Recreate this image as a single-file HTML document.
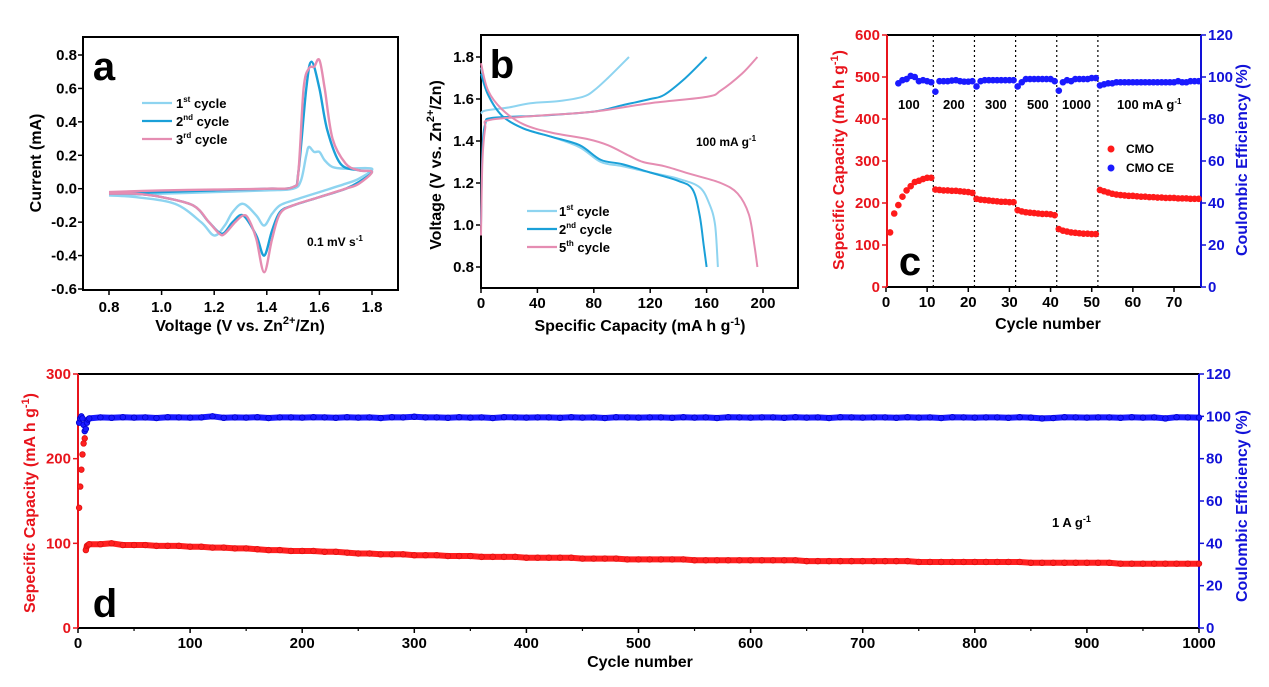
<!DOCTYPE html>
<html><head><meta charset="utf-8">
<style>
html,body{margin:0;padding:0;background:#fff;}
svg{display:block;font-family:"Liberation Sans",Arial,sans-serif;font-weight:bold;}
</style></head>
<body>
<svg id="fig" width="1269" height="687" viewBox="0 0 1269 687" xmlns="http://www.w3.org/2000/svg"></svg>
<script>
// ---------- Panel a data (CV) ----------
const cvV1 = [0.8,1.0,1.2,1.4,1.5,1.53,1.55,1.56,1.58,1.6,1.62,1.65,1.7,1.8, 1.75,1.7,1.6,1.5,1.45,1.42,1.39,1.36,1.31,1.27,1.24,1.2,1.15,1.05,0.9,0.8];
const cvI1 = [-0.04,-0.03,-0.02,-0.01,0.0,0.05,0.2,0.25,0.22,0.22,0.17,0.13,0.12,0.12, 0.06,0.03,-0.02,-0.07,-0.1,-0.15,-0.22,-0.16,-0.09,-0.14,-0.22,-0.28,-0.2,-0.09,-0.05,-0.04];
const cvV2 = [0.8,1.0,1.2,1.4,1.5,1.52,1.55,1.57,1.6,1.63,1.68,1.75,1.8, 1.75,1.7,1.6,1.5,1.45,1.42,1.39,1.36,1.31,1.27,1.23,1.18,1.12,1.0,0.9,0.8];
const cvI2 = [-0.03,-0.02,-0.01,0.0,0.01,0.1,0.6,0.76,0.6,0.35,0.15,0.11,0.1, 0.04,0.0,-0.05,-0.1,-0.14,-0.25,-0.4,-0.28,-0.16,-0.2,-0.27,-0.2,-0.1,-0.05,-0.03,-0.03];
const cvV3 = [0.8,1.0,1.2,1.4,1.5,1.52,1.54,1.56,1.58,1.6,1.62,1.65,1.7,1.75,1.8, 1.75,1.7,1.6,1.5,1.45,1.42,1.39,1.36,1.33,1.31,1.28,1.24,1.22,1.18,1.12,1.0,0.9,0.8];
const cvI3 = [-0.02,-0.01,-0.005,0.0,0.01,0.1,0.6,0.72,0.73,0.77,0.6,0.3,0.15,0.11,0.1, 0.03,0.0,-0.05,-0.1,-0.15,-0.3,-0.5,-0.3,-0.18,-0.16,-0.2,-0.27,-0.27,-0.2,-0.1,-0.05,-0.03,-0.03];
const aXTicks = [0.8,1.0,1.2,1.4,1.6,1.8];
const aYTicks = [-0.6,-0.4,-0.2,0.0,0.2,0.4,0.6,0.8];
// ---------- Panel b data (GCD) ----------
const b1dC=[0,5,15,30,50,70,85,100,120,140,155,162,166,168];
const b1dV=[1.75,1.62,1.52,1.46,1.42,1.37,1.3,1.28,1.25,1.22,1.18,1.1,1.0,0.8];
const b1cC=[0,3,20,35,55,72,80,90,105];
const b1cV=[1.53,1.545,1.56,1.58,1.59,1.61,1.64,1.7,1.8];
const b2dC=[0,5,15,30,50,70,85,100,120,140,150,155,158,160];
const b2dV=[1.72,1.62,1.52,1.46,1.42,1.38,1.31,1.29,1.25,1.21,1.17,1.05,0.9,0.8];
const b2cC=[0,1,3,8,40,80,100,120,130,145,160];
const b2cV=[1.0,1.35,1.48,1.51,1.52,1.54,1.57,1.6,1.62,1.7,1.8];
const b5dC=[0,5,15,30,50,75,90,105,115,130,150,170,182,190,194,196];
const b5dV=[1.77,1.64,1.55,1.48,1.44,1.41,1.38,1.33,1.3,1.28,1.24,1.2,1.15,1.05,0.9,0.8];
const b5cC=[0,1,3,6,40,80,120,160,170,185,196];
const b5cV=[0.95,1.3,1.46,1.5,1.52,1.54,1.58,1.61,1.64,1.72,1.8];
const bXTicks=[0,40,80,120,160,200];
const bYTicks=[0.8,1.0,1.2,1.4,1.6,1.8];
// ---------- Panel c data (rate) ----------
const cCap=[130,175,195,215,230,240,250,253,257,260,260,
232,231,230,230,229,229,228,227,226,224,
210,208,207,206,205,204,203,203,202,202,
183,180,178,177,176,175,174,174,173,171,
138,134,132,130,129,128,127,127,126,126,
231,228,225,222,220,219,218,217,217,216,215,215,214,214,213,213,212,212,212,211,211,211,210,210,210];
const cCE=[null,null,97,98.5,99,100.5,100,98,98.5,98,97.5,
93,98,98,98,98.3,98.5,98,97.8,97.8,98,
95.5,98,98.5,98.5,98.5,98.5,98.5,98.5,98.5,98.5,
95.5,97.5,99,99,99,99,99,99,99,98,
93.5,97.5,98.5,98,99,99,99,99,99.5,99.5,
96,96.5,97,97,97.5,97.5,97.5,97.5,97.5,97.5,97.5,97.5,97.5,97.5,97.5,97.5,97.5,97.5,97.5,98,97.5,97.5,98,98,98];
const cRates=["100","200","300","500","1000","100 mA g"];
const cXTicks=[0,10,20,30,40,50,60,70];
const cYL=[0,100,200,300,400,500,600];
const cYR=[0,20,40,60,80,100,120];
// ---------- Panel d data (long cycling) ----------
const dCycles=[1,2,3,4,5,6,7,8,9,10,20,30,40,50,60,70,80,90,100,110,120,130,140,150,160,170,180,190,200,210,220,230,240,250,260,270,280,290,300,310,320,330,340,350,360,370,380,390,400,410,420,430,440,450,460,470,480,490,500,510,520,530,540,550,560,570,580,590,600,610,620,630,640,650,660,670,680,690,700,710,720,730,740,750,760,770,780,790,800,810,820,830,840,850,860,870,880,890,900,910,920,930,940,950,960,970,980,990,1000];
const dCap=[142,167,187,205,218,224,92,97,98,99,
99,100,98,98,98,97,97,97,96,96,
95,95,94,94,93,92,92,91,91,91,
90,90,89,88,88,87,87,87,86,86,
86,85,85,85,84,84,84,84,83,83,
83,83,83,82,82,82,82,81,81,81,
81,81,81,80,80,80,80,80,80,80,
80,80,80,79,79,79,79,79,79,79,
79,79,79,78,78,78,78,78,78,78,
78,78,78,77,77,77,77,77,77,77,
77,76,76,76,76,76,76,76,76];
const dCE=[97,99,100,99,96,93,94,97,98.5,99,
99.5,99.3,99.6,99.4,99.5,99.2,99.6,99.5,99.4,99.5,
100,99.3,99.5,99.4,99.6,99.2,99.5,99.5,99.4,99.6,
99.5,99.3,99.6,99.4,99.5,99.2,99.6,99.5,99.8,99.5,
99.5,99.3,99.6,99.4,99.5,99.2,99.6,99.5,99.4,99.5,
99.5,99.3,99.6,99.4,99.5,99.2,99.6,99.5,99.4,99.5,
99.5,99.3,99.6,99.4,99.5,99.2,99.6,99.5,99.4,99.5,
99.5,99.3,99.6,99.4,99.5,99.2,99.6,99.5,99.4,99.5,
99.5,99.3,99.6,99.4,99.5,99.2,99.6,99.5,99.4,99.5,
99.5,99.3,99.6,99.4,99.0,99.2,99.6,99.5,99.4,99.5,
99.5,99.3,99.6,99.4,99.5,99.0,99.6,99.5,99.4];
const dXTicks=[0,100,200,300,400,500,600,700,800,900,1000];
const dYL=[0,100,200,300];
const dYR=[0,20,40,60,80,100,120];

const NS="http://www.w3.org/2000/svg";
const svg=document.getElementById('fig');
function el(tag,attrs,parent){const e=document.createElementNS(NS,tag);for(const k in attrs)e.setAttribute(k,attrs[k]);(parent||svg).appendChild(e);return e;}
function txt(s,x,y,size,fill,anchor,parent,rot){const t=el('text',{x:x,y:y,'font-size':size,fill:fill||'#000','text-anchor':anchor||'middle'},parent);if(rot)t.setAttribute('transform','rotate(-90 '+x+' '+y+')');t.textContent=s;return t;}
function lin(d0,d1,p0,p1){return v=>p0+(v-d0)*(p1-p0)/(d1-d0);}
function pathFrom(xs,ys,fx,fy){return xs.map((v,i)=>(i?'L':'M')+fx(v).toFixed(1)+','+fy(ys[i]).toFixed(1)).join('');}
function smoothFrom(xs,ys,fx,fy){
 const p=xs.map((v,i)=>[fx(v),fy(ys[i])]);
 let d='M'+p[0][0].toFixed(1)+','+p[0][1].toFixed(1);
 for(let i=0;i<p.length-1;i++){
  const p0=p[i-1]||p[i],p1=p[i],p2=p[i+1],p3=p[i+2]||p2;
  const c1=[p1[0]+(p2[0]-p0[0])/6,p1[1]+(p2[1]-p0[1])/6];
  const c2=[p2[0]-(p3[0]-p1[0])/6,p2[1]-(p3[1]-p1[1])/6];
  d+='C'+c1[0].toFixed(1)+','+c1[1].toFixed(1)+' '+c2[0].toFixed(1)+','+c2[1].toFixed(1)+' '+p2[0].toFixed(1)+','+p2[1].toFixed(1);
 }
 return d;
}

// ================= Panel a =================
(function(){
 const g=el('g',{});
 
 
 const L=83,R=398,T=37,B=290;
 const fx=lin(0.8,1.8,109,372), fy=lin(-0.6,0.8,289,55);
 el('rect',{x:L,y:T,width:R-L,height:B-T,fill:'none',stroke:'#000','stroke-width':2},g);
 aXTicks.forEach(v=>{el('line',{x1:fx(v),x2:fx(v),y1:B,y2:B+5,stroke:'#000','stroke-width':1.5},g);txt(v.toFixed(1),fx(v),B+22,15,'#000','middle',g);});
 aYTicks.forEach(v=>{el('line',{x1:L-5,x2:L,y1:fy(v),y2:fy(v),stroke:'#000','stroke-width':1.5},g);txt(v.toFixed(1),L-6,fy(v)+5,15,'#000','end',g);});
 const c1=el('path',{d:smoothFrom(cvV1,cvI1,fx,fy),fill:'none',stroke:'#8ed4f0','stroke-width':2.4},g);
 
 
 const c2=el('path',{d:smoothFrom(cvV2,cvI2,fx,fy),fill:'none',stroke:'#1aa0d8','stroke-width':2.4},g);
 
 
 const c3=el('path',{d:smoothFrom(cvV3,cvI3,fx,fy),fill:'none',stroke:'#e58db2','stroke-width':2.4},g);
 
 
 txt('a',104,80,40,'#000','middle',g);
 const lg=[['#8ed4f0','st','1'],['#1aa0d8','nd','2'],['#e58db2','rd','3']];
 lg.forEach((l,i)=>{const y=103+i*18;el('line',{x1:142,x2:172,y1:y,y2:y,stroke:l[0],'stroke-width':2.2},g);
  const t=el('text',{x:176,y:y+5,'font-size':13},g);t.innerHTML=l[2]+'<tspan font-size="8" dy="-6">'+l[1]+'</tspan><tspan dy="6"> cycle</tspan>';});
 const t2=el('text',{x:307,y:246,'font-size':12},g);t2.innerHTML='0.1 mV s<tspan font-size="8" dy="-5">-1</tspan>';
 const xt=el('text',{x:240,y:331,'font-size':16,'text-anchor':'middle'},g);xt.innerHTML='Voltage  (V vs. Zn<tspan font-size="11" dy="-7">2+</tspan><tspan dy="7">/Zn)</tspan>';
 txt('Current  (mA)',41,163,16,'#000','middle',g,true);
})();

// ================= Panel b =================
(function(){
 const g=el('g',{});
 
 
 const L=481,R=798,T=35,B=288;
 const fx=lin(0,200,481,763), fy=lin(0.8,1.8,267,57);
 el('rect',{x:L,y:T,width:R-L,height:B-T,fill:'none',stroke:'#000','stroke-width':2},g);
 bXTicks.forEach(v=>{el('line',{x1:fx(v),x2:fx(v),y1:B,y2:B+5,stroke:'#000','stroke-width':1.5},g);txt(String(v),fx(v),B+20,15,'#000','middle',g);});
 bYTicks.forEach(v=>{el('line',{x1:L-5,x2:L,y1:fy(v),y2:fy(v),stroke:'#000','stroke-width':1.5},g);txt(v.toFixed(1),L-7,fy(v)+5,15,'#000','end',g);});
 const sets=[[b1dC,b1dV,b1cC,b1cV,'#8ed4f0','gcd-1st'],[b2dC,b2dV,b2cC,b2cV,'#1aa0d8','gcd-2nd'],[b5dC,b5dV,b5cC,b5cV,'#e58db2','gcd-5th']];
 sets.forEach(s=>{
  const p1=el('path',{d:smoothFrom(s[0],s[1],fx,fy),fill:'none',stroke:s[4],'stroke-width':2},g);
  
  
  const p2=el('path',{d:smoothFrom(s[2],s[3],fx,fy),fill:'none',stroke:s[4],'stroke-width':2},g);
  
  
 });
 txt('b',502,78,40,'#000','middle',g);
 const t2=el('text',{x:696,y:146,'font-size':12},g);t2.innerHTML='100 mA g<tspan font-size="8" dy="-5">-1</tspan>';
 const lg=[['#8ed4f0','st','1'],['#1aa0d8','nd','2'],['#e58db2','th','5']];
 lg.forEach((l,i)=>{const y=211+i*18;el('line',{x1:527,x2:557,y1:y,y2:y,stroke:l[0],'stroke-width':2.2},g);
  const t=el('text',{x:559,y:y+5,'font-size':13},g);t.innerHTML=l[2]+'<tspan font-size="8" dy="-6">'+l[1]+'</tspan><tspan dy="6"> cycle</tspan>';});
 const xt=el('text',{x:640,y:331,'font-size':16,'text-anchor':'middle'},g);xt.innerHTML='Specific Capacity  (mA h g<tspan font-size="11" dy="-6">-1</tspan><tspan dy="6">)</tspan>';
 const yt=el('text',{x:0,y:0,'font-size':16,'text-anchor':'middle',transform:'translate(441 165) rotate(-90)'},g);yt.innerHTML='Voltage  (V vs. Zn<tspan font-size="11" dy="-7">2+</tspan><tspan dy="7">/Zn)</tspan>';
})();

// ================= Panel c =================
(function(){
 const g=el('g',{});
 
 
 const L=887,R=1201,T=35,B=287;
 const fx=lin(0,70,886,1174), fyL=lin(0,600,287,35), fyR=lin(0,120,287,35);
 el('line',{x1:L,x2:R,y1:T,y2:T,stroke:'#000','stroke-width':2},g);
 el('line',{x1:L,x2:R,y1:B,y2:B,stroke:'#000','stroke-width':2},g);
 el('line',{x1:L,x2:L,y1:T,y2:B,stroke:'#e8141c','stroke-width':2},g);
 el('line',{x1:R,x2:R,y1:T,y2:B,stroke:'#1212d8','stroke-width':2},g);
 cXTicks.forEach(v=>{el('line',{x1:fx(v),x2:fx(v),y1:B,y2:B+5,stroke:'#000','stroke-width':1.5},g);txt(String(v),fx(v),B+20,15,'#000','middle',g);});
 cYL.forEach(v=>{el('line',{x1:L-5,x2:L,y1:fyL(v),y2:fyL(v),stroke:'#e8141c','stroke-width':1.5},g);txt(String(v),L-7,fyL(v)+5,15,'#e8141c','end',g);});
 cYR.forEach(v=>{el('line',{x1:R,x2:R+5,y1:fyR(v),y2:fyR(v),stroke:'#1212d8','stroke-width':1.5},g);txt(String(v),R+7,fyR(v)+5,15,'#1212d8','start',g);});
 [11.5,21.5,31.5,41.5,51.5].forEach(c=>el('line',{x1:fx(c),x2:fx(c),y1:T,y2:B,stroke:'#000','stroke-width':1.2,'stroke-dasharray':'2,3'},g));
 cCap.forEach((v,i)=>{const m=el('circle',{cx:fx(i+1),cy:fyL(v),r:3.3,fill:'#ff1a1a'},g);
  
  });
 cCE.forEach((v,i)=>{if(v==null)return;const m=el('circle',{cx:fx(i+1),cy:fyR(v),r:3.3,fill:'#1a1aff'},g);
  
  });
 const rx=[898,943,985,1027,1062,1117];
 cRates.forEach((s,i)=>{const t=el('text',{x:rx[i],y:109,'font-size':13,'text-anchor':'start'},g);
  if(i==5)t.innerHTML=s+'<tspan font-size="8" dy="-5">-1</tspan>';else t.textContent=s;});
 el('circle',{cx:1111,cy:149,r:3.5,fill:'#ff1a1a'},g);txt('CMO',1126,153,12,'#000','start',g);
 el('circle',{cx:1111,cy:168,r:3.5,fill:'#1a1aff'},g);txt('CMO CE',1126,172,12,'#000','start',g);
 txt('c',910,275,40,'#000','middle',g);
 txt('Cycle number',1048,329,16,'#000','middle',g);
 const yl=el('text',{x:0,y:0,'font-size':16,fill:'#e8141c','text-anchor':'middle',transform:'translate(844 160) rotate(-90)'},g);yl.innerHTML='Sepecific Capacity (mA h g<tspan font-size="11" dy="-6">-1</tspan><tspan dy="6">)</tspan>';
 txt('Coulombic  Efficiency (%)',1247,160,16,'#1212d8','middle',g,true);
})();

// ================= Panel d =================
(function(){
 const g=el('g',{});
 
 
 const L=78,R=1199,T=374,B=628;
 const fx=lin(0,1000,78,1199), fyL=lin(0,300,628,374), fyR=lin(0,120,628,374);
 el('line',{x1:L,x2:R,y1:T,y2:T,stroke:'#000','stroke-width':2},g);
 el('line',{x1:L,x2:R,y1:B,y2:B,stroke:'#000','stroke-width':2},g);
 el('line',{x1:L,x2:L,y1:T,y2:B,stroke:'#e8141c','stroke-width':2},g);
 el('line',{x1:R,x2:R,y1:T,y2:B,stroke:'#1212d8','stroke-width':2},g);
 dXTicks.forEach(v=>{el('line',{x1:fx(v),x2:fx(v),y1:B,y2:B+5,stroke:'#000','stroke-width':1.5},g);if(v<1000)el('line',{x1:fx(v+50),x2:fx(v+50),y1:B,y2:B+3,stroke:'#000','stroke-width':1.2},g);txt(String(v),fx(v),B+20,15,'#000','middle',g);});
 dYL.forEach(v=>{el('line',{x1:L-5,x2:L,y1:fyL(v),y2:fyL(v),stroke:'#e8141c','stroke-width':1.5},g);txt(String(v),L-7,fyL(v)+5,15,'#e8141c','end',g);});
 dYR.forEach(v=>{el('line',{x1:R,x2:R+5,y1:fyR(v),y2:fyR(v),stroke:'#1212d8','stroke-width':1.5},g);txt(String(v),R+7,fyR(v)+5,15,'#1212d8','start',g);});
 const pc=el('path',{d:pathFrom(dCycles.slice(6),dCap.slice(6),fx,fyL),fill:'none',stroke:'#ff2020','stroke-width':6,'stroke-linejoin':'round'},g);
 
 
 const pe=el('path',{d:pathFrom(dCycles.slice(9),dCE.slice(9),fx,fyR),fill:'none',stroke:'#1a1aff','stroke-width':6,'stroke-linejoin':'round'},g);
 
 
 dCap.forEach((v,i)=>{const m=el('circle',{cx:fx(dCycles[i]),cy:fyL(v),r:2.8,fill:'#ff2020',stroke:'#e01010','stroke-width':0.8},g);
  
  });
 dCE.forEach((v,i)=>{const m=el('circle',{cx:fx(dCycles[i]),cy:fyR(v),r:2.8,fill:'#1a1aff',stroke:'#0000cc','stroke-width':0.8},g);
  
  });
 const t=el('text',{x:1052,y:527,'font-size':13},g);t.innerHTML='1 A g<tspan font-size="9" dy="-5">-1</tspan>';
 txt('d',105,617,40,'#000','middle',g);
 txt('Cycle number',640,667,16,'#000','middle',g);
 const yl=el('text',{x:0,y:0,'font-size':16,fill:'#e8141c','text-anchor':'middle',transform:'translate(35 503) rotate(-90)'},g);yl.innerHTML='Sepecific Capacity (mA h g<tspan font-size="11" dy="-6">-1</tspan><tspan dy="6">)</tspan>';
 txt('Coulombic  Efficiency (%)',1247,506,16,'#1212d8','middle',g,true);
})();
</script>
</body></html>
